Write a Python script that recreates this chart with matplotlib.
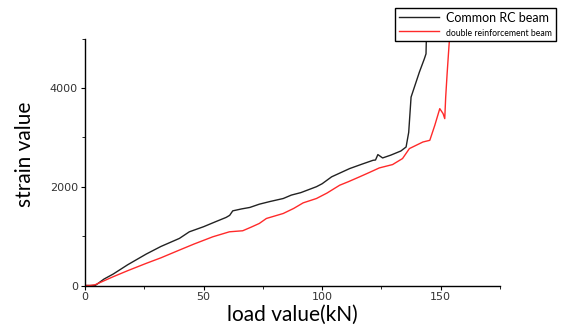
import matplotlib
matplotlib.use("Agg")
import matplotlib.pyplot as plt
from matplotlib.ticker import MultipleLocator

# Common RC beam (black)
load_common = [0, 4.3, 8, 11.9, 18, 25.8, 32, 39.8, 44, 50, 55, 59.5, 61, 62.3, 66,
               69.5, 73.5, 78, 83.6, 87, 91, 97.6, 100, 104, 111.6, 117, 121.5, 122.5,
               123.5, 125.5, 129, 133.2, 135.4, 136.5, 137.5, 138.9, 141, 143.1, 143.8, 144.0]
strain_common = [0, 0, 130, 232, 420, 636, 790, 953, 1087, 1190, 1290, 1378, 1420, 1511, 1550,
                 1580, 1646, 1700, 1761, 1830, 1880, 2000, 2060, 2200, 2367, 2460, 2535, 2540,
                 2650, 2582, 2640, 2723, 2804, 3100, 3814, 4016, 4319, 4589, 4690, 5100]

# double reinforcement beam (red)
load_double = [0, 2.1, 4.3, 11.9, 18, 25.8, 32, 39.8, 46, 53.9, 60.9, 66.5, 70, 73.5, 76.5,
               83.6, 88, 92, 97.6, 102, 107.4, 111, 115.7, 120, 124.1, 129.7, 133.9, 136.8,
               142.5, 145.4, 147.5, 149.6, 151, 151.7, 152.1, 152.7, 153.5, 153.9]
strain_double = [0, 0, 16, 178, 300, 448, 560, 717, 840, 986, 1087, 1108, 1180, 1256, 1357,
                 1458, 1560, 1673, 1761, 1870, 2030, 2100, 2198, 2290, 2380, 2448, 2570, 2772,
                 2905, 2939, 3242, 3580, 3479, 3378, 3814, 4287, 4859, 5100]

series_labels = ["Common RC beam", "double reinforcement beam"]
x_label = "load value(kN)"
y_label = "strain value"

fig = plt.figure(figsize=(5.63, 3.29), dpi=100)
ax = fig.add_axes([85/563, 1-285.5/329, (500-85)/563, (285.5-38.5)/329])

l1, = ax.plot(load_common, strain_common, color="#222222", lw=1.0, label=series_labels[0])
l2, = ax.plot(load_double, strain_double, color="#ff2a2a", lw=1.0, label=series_labels[1])

ax.set_xlim(0, 175)
ax.set_ylim(0, 5000)
ax.xaxis.set_major_locator(MultipleLocator(50))
ax.xaxis.set_minor_locator(MultipleLocator(25))
ax.yaxis.set_major_locator(MultipleLocator(2000))
ax.yaxis.set_minor_locator(MultipleLocator(1000))
for s in ["top", "right"]:
    ax.spines[s].set_visible(False)
for s in ["left", "bottom"]:
    ax.spines[s].set_linewidth(1.0)
ax.tick_params(which="major", direction="out", length=3, width=0.8, labelsize=8,
               labelcolor="#333333", pad=2)
ax.tick_params(which="minor", direction="out", length=2, width=0.6)

ax.set_xlabel(x_label, fontsize=15, family="Lato", labelpad=2)
ax.set_ylabel(y_label, fontsize=15, family="Lato", labelpad=8)
ax.yaxis.set_label_coords(-0.12, 0.53)

leg = fig.legend(handles=[l1, l2], loc="upper left", bbox_to_anchor=(395/563, 1-8/329),
                 frameon=True, fancybox=False, edgecolor="black", framealpha=1,
                 handlelength=3.2, handletextpad=0.6, borderpad=0.3, labelspacing=0.25,
                 borderaxespad=0, prop={"family": "Lato", "size": 9})
leg.get_frame().set_linewidth(1.0)
leg.get_texts()[1].set_fontsize(6.2)

fig.savefig("out.png", dpi=100)
